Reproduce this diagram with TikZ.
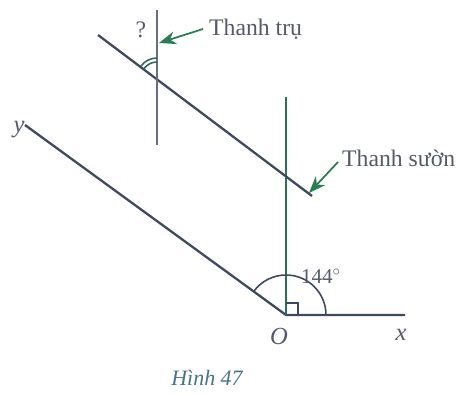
\documentclass[tikz,border=0pt]{standalone}
\usepackage{fontspec}
\setmainfont{Liberation Serif}
\usetikzlibrary{arrows.meta,calc}
\definecolor{slate}{RGB}{62,72,95}
\definecolor{pine}{RGB}{40,125,85}
\definecolor{label}{RGB}{85,90,105}
\definecolor{capt}{RGB}{70,115,135}
\tikzset{
  >={Stealth[length=3.4mm,width=2.6mm]},
  bar/.style={draw=slate,line width=1.3pt},
  post/.style={draw=pine!70!slate,line width=1.3pt},
  tag/.style={font=\fontsize{13.5}{16}\selectfont,text=label},
  pointer/.style={->,draw=pine,fill=pine,line width=1pt},
}
\begin{document}
\begin{tikzpicture}[x=0.02cm,y=-0.02cm]
  \useasboundingbox (0,0) rectangle (473,394);
  % axes and the two bars
  \coordinate (O) at (286,315);
  \coordinate (x) at (405,315);
  \coordinate (y) at ($(O)+(-261,-190)$);
  \coordinate (vtop) at (286,97);
  \coordinate (rA) at (98,35);
  \coordinate (rB) at (312,196);
  \coordinate (tTop) at (157,10);
  \coordinate (tBot) at (157,145);
  \coordinate (P) at (157,78);
  \draw[bar] (y) -- (O) -- (x);
  \draw[post] (vtop) -- (O);
  \draw[bar] (rA) -- (rB);
  \draw[bar,draw=slate!80] (tTop) -- (tBot);
  % angle marks
  \draw[slate,line width=0.9pt] (O) ++(40,0) arc[start angle=0,end angle=-144,radius=40];
  \draw[slate,line width=0.8pt] (O) ++(12,0) -- ++(0,-12) -- ++(-12,0);
  \draw[pine!60!slate,line width=0.9pt] (P) ++(0,-20) arc[start angle=-90,end angle=-144,radius=20];
  \draw[pine!60!slate,line width=0.9pt] (P) ++(0,-16) arc[start angle=-90,end angle=-144,radius=16];
  % labels
  \node[tag] (q) at (141,30) {?};
  \node[tag,anchor=west] (tru) at (203,29) {Thanh trụ};
  \node[tag,anchor=west] (suon) at (336,158) {Thanh sườn};
  \draw[pointer] (tru.west) -- (159,43);
  \draw[pointer] ($(suon.west)+(2,4)$) -- (309,193);
  \node[tag,font=\fontsize{14}{16}\selectfont\itshape] (Olab) at (279,336) {O};
  \node[tag,font=\fontsize{14}{16}\selectfont\itshape] (xlab) at (401,335) {x};
  \node[tag,font=\fontsize{14}{16}\selectfont\itshape] (ylab) at (19,130) {y};
  \node[tag,font=\fontsize{12}{14}\selectfont] (ang) at (321,276) {144$^\circ$};
  \node[font=\fontsize{12.5}{15}\selectfont\itshape,text=capt] (cap) at (207,378) {Hình 47};
\end{tikzpicture}
\end{document}
